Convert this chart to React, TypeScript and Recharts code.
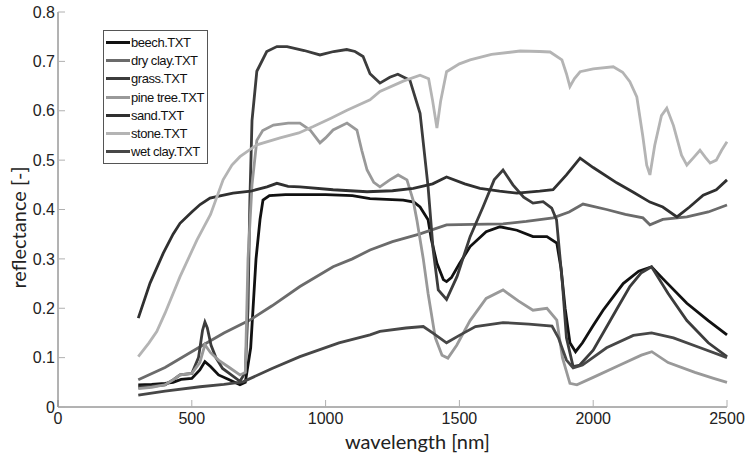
import { Legend, Line, LineChart, XAxis, YAxis } from "recharts";

// wavelength [nm], reflectance [-] pairs
const beech = [
  [300, 0.045], [350, 0.046], [400, 0.048], [430, 0.05], [460, 0.056], [500, 0.058],
  [530, 0.075], [549, 0.092], [570, 0.082], [600, 0.065], [640, 0.055], [680, 0.045],
  [700, 0.05], [720, 0.12], [740, 0.3], [755, 0.38], [766, 0.419], [790, 0.428],
  [850, 0.43], [1000, 0.43], [1100, 0.428], [1166, 0.422], [1290, 0.419], [1330, 0.415],
  [1353, 0.405], [1383, 0.379], [1395, 0.34], [1416, 0.291], [1440, 0.258], [1452, 0.254],
  [1470, 0.262], [1500, 0.29], [1540, 0.325], [1600, 0.355], [1652, 0.365], [1715, 0.358],
  [1775, 0.345], [1827, 0.345], [1864, 0.332], [1880, 0.28], [1895, 0.2], [1913, 0.13],
  [1934, 0.112], [1960, 0.13], [2000, 0.165], [2037, 0.196], [2112, 0.25], [2170, 0.275],
  [2218, 0.284], [2260, 0.26], [2350, 0.21], [2430, 0.175], [2500, 0.146],
];

const dryClay = [
  [300, 0.055], [400, 0.08], [531, 0.122], [620, 0.15], [717, 0.176], [800, 0.205],
  [904, 0.244], [1028, 0.284], [1100, 0.3], [1166, 0.318], [1250, 0.335], [1350, 0.35],
  [1452, 0.369], [1550, 0.37], [1663, 0.371], [1750, 0.376], [1850, 0.383], [1910, 0.395],
  [1962, 0.411], [2050, 0.4], [2120, 0.39], [2186, 0.383], [2212, 0.369], [2260, 0.38],
  [2350, 0.385], [2430, 0.395], [2500, 0.409],
];

const grass = [
  [300, 0.04], [350, 0.042], [400, 0.045], [430, 0.055], [456, 0.065], [500, 0.068],
  [525, 0.1], [540, 0.155], [549, 0.172], [558, 0.16], [572, 0.125], [590, 0.1],
  [615, 0.078], [640, 0.068], [680, 0.052], [700, 0.07], [710, 0.2], [717, 0.42],
  [725, 0.58], [743, 0.68], [780, 0.72], [818, 0.73], [856, 0.73], [920, 0.722],
  [979, 0.713], [1030, 0.72], [1079, 0.724], [1110, 0.72], [1140, 0.71], [1166, 0.675],
  [1203, 0.656], [1240, 0.668], [1270, 0.674], [1315, 0.662], [1353, 0.595], [1383, 0.446],
  [1402, 0.318], [1421, 0.237], [1452, 0.218], [1491, 0.264], [1540, 0.345], [1589, 0.406],
  [1630, 0.46], [1663, 0.48], [1700, 0.45], [1740, 0.425], [1775, 0.413], [1813, 0.416],
  [1845, 0.403], [1863, 0.379], [1885, 0.25], [1900, 0.14], [1925, 0.082], [1950, 0.085],
  [2000, 0.115], [2037, 0.15], [2090, 0.2], [2137, 0.244], [2180, 0.272], [2218, 0.284],
  [2280, 0.23], [2350, 0.175], [2430, 0.13], [2500, 0.102],
];

const pineTree = [
  [300, 0.037], [350, 0.04], [400, 0.045], [430, 0.055], [456, 0.065], [500, 0.068],
  [530, 0.09], [549, 0.126], [570, 0.11], [600, 0.095], [640, 0.08], [680, 0.065],
  [700, 0.07], [710, 0.3], [725, 0.45], [743, 0.54], [765, 0.56], [805, 0.571],
  [860, 0.575], [904, 0.575], [942, 0.561], [979, 0.535], [1000, 0.545], [1028, 0.561],
  [1080, 0.575], [1117, 0.561], [1135, 0.52], [1155, 0.48], [1180, 0.455], [1203, 0.446],
  [1240, 0.46], [1271, 0.47], [1304, 0.46], [1327, 0.419], [1341, 0.379], [1365, 0.3],
  [1383, 0.23], [1410, 0.14], [1435, 0.105], [1457, 0.099], [1490, 0.125], [1540, 0.175],
  [1600, 0.22], [1663, 0.237], [1720, 0.215], [1775, 0.196], [1827, 0.2], [1864, 0.176],
  [1885, 0.1], [1913, 0.048], [1939, 0.045], [2000, 0.06], [2100, 0.085], [2180, 0.105],
  [2219, 0.112], [2280, 0.09], [2380, 0.07], [2450, 0.058], [2500, 0.05],
];

const sand = [
  [300, 0.18], [344, 0.251], [393, 0.311], [430, 0.35], [456, 0.372], [500, 0.395],
  [531, 0.41], [568, 0.423], [610, 0.428], [654, 0.433], [720, 0.437], [781, 0.446],
  [818, 0.453], [860, 0.447], [904, 0.446], [1028, 0.44], [1155, 0.436], [1250, 0.438],
  [1328, 0.443], [1400, 0.452], [1452, 0.466], [1520, 0.452], [1577, 0.443], [1650, 0.437],
  [1715, 0.433], [1800, 0.437], [1850, 0.44], [1900, 0.47], [1951, 0.504], [2000, 0.485],
  [2088, 0.454], [2150, 0.435], [2212, 0.415], [2260, 0.405], [2313, 0.385], [2360, 0.405],
  [2411, 0.429], [2460, 0.44], [2500, 0.46],
];

const stone = [
  [300, 0.102], [340, 0.13], [369, 0.153], [400, 0.19], [456, 0.264], [519, 0.338],
  [570, 0.39], [617, 0.46], [650, 0.49], [680, 0.507], [743, 0.531], [830, 0.545],
  [900, 0.555], [954, 0.568], [1020, 0.585], [1080, 0.601], [1166, 0.622], [1203, 0.639],
  [1290, 0.66], [1353, 0.672], [1385, 0.665], [1400, 0.62], [1416, 0.565], [1430, 0.62],
  [1452, 0.679], [1500, 0.695], [1540, 0.703], [1620, 0.714], [1727, 0.721], [1800, 0.72],
  [1839, 0.719], [1883, 0.703], [1900, 0.675], [1913, 0.649], [1930, 0.665], [1951, 0.679],
  [2000, 0.685], [2075, 0.689], [2110, 0.678], [2137, 0.659], [2163, 0.628], [2185, 0.55],
  [2200, 0.49], [2212, 0.47], [2230, 0.53], [2255, 0.59], [2275, 0.605], [2300, 0.57],
  [2330, 0.51], [2350, 0.49], [2375, 0.505], [2399, 0.52], [2420, 0.505], [2437, 0.494],
  [2460, 0.5], [2480, 0.52], [2500, 0.537],
];

const wetClay = [
  [300, 0.024], [400, 0.032], [531, 0.041], [620, 0.046], [691, 0.051], [800, 0.078],
  [904, 0.102], [1050, 0.13], [1166, 0.146], [1203, 0.153], [1300, 0.16], [1365, 0.163],
  [1400, 0.15], [1452, 0.13], [1500, 0.145], [1560, 0.163], [1663, 0.171], [1760, 0.168],
  [1846, 0.164], [1870, 0.14], [1900, 0.095], [1925, 0.079], [1960, 0.085], [2050, 0.12],
  [2150, 0.145], [2218, 0.15], [2300, 0.14], [2400, 0.12], [2500, 0.1],
];

const xTicks = [0, 500, 1000, 1500, 2000, 2500];
const yTicks = [0, 0.1, 0.2, 0.3, 0.4, 0.5, 0.6, 0.7, 0.8];

const series = [
  { name: "beech.TXT", color: "#111111", points: beech },
  { name: "dry clay.TXT", color: "#6b6b6b", points: dryClay },
  { name: "grass.TXT", color: "#3c3c3c", points: grass },
  { name: "pine tree.TXT", color: "#999999", points: pineTree },
  { name: "sand.TXT", color: "#303030", points: sand },
  { name: "stone.TXT", color: "#b4b4b4", points: stone },
  { name: "wet clay.TXT", color: "#474747", points: wetClay },
];

const tickFont = { fontSize: 16, fill: "#222", fontFamily: "'Liberation Sans', Arial, sans-serif" };
const titleFont = "Lato, 'Open Sans', sans-serif";

function LegendBox({ payload }: { payload?: any[] }) {
  return (
    <div
      style={{
        boxSizing: "border-box",
        border: "1px solid #555",
        background: "#fff",
        padding: "2px 0 2px 2px",
        width: 105,
        fontFamily: "'Liberation Sans', Arial, sans-serif",
        fontSize: 13,
        letterSpacing: -0.45,
        whiteSpace: "nowrap",
        overflow: "hidden",
        color: "#111",
      }}
    >
      {(payload ?? []).map((p) => (
        <div key={p.value} style={{ display: "flex", alignItems: "center", height: 18.3 }}>
          <span style={{ flex: "none", width: 24, height: 3, background: p.color, marginRight: 1 }} />
          <span>{p.value}</span>
        </div>
      ))}
    </div>
  );
}

export default function App() {
  return (
    <div style={{ position: "absolute", left: 0, top: 0, background: "#fff" }}>
      <LineChart width={748} height={457} margin={{ top: 12, right: 21, bottom: 0, left: 0 }}>
        <XAxis
          type="number"
          dataKey="x"
          domain={[0, 2500]}
          ticks={xTicks}
          interval={0}
          height={50}
          stroke="#666"
          tickSize={-7}
          tickMargin={13}
          tickLine={{ stroke: "#b0b0b0" }}
          tick={tickFont}
          label={(props: any) => {
            const vb = props.viewBox;
            return (
              <text
                x={vb.x + vb.width / 2 + 25}
                y={vb.y + 42}
                textAnchor="middle"
                fontSize={20}
                fontFamily={titleFont}
                fill="#222"
              >
                wavelength [nm]
              </text>
            );
          }}
        />
        <XAxis
          xAxisId="top"
          orientation="top"
          type="number"
          domain={[0, 2500]}
          ticks={xTicks}
          interval={0}
          height={0}
          stroke="#666"
          tickSize={-7}
          tickLine={{ stroke: "#b0b0b0" }}
          tick={false}
        />
        <YAxis
          type="number"
          domain={[0, 0.8]}
          ticks={yTicks}
          interval={0}
          width={58}
          stroke="#666"
          tickSize={-7}
          tickMargin={10}
          tickLine={{ stroke: "#b0b0b0" }}
          tick={tickFont}
          label={(props: any) => {
            const vb = props.viewBox;
            const cx = 18;
            const cy = vb.y + vb.height / 2 + 18;
            return (
              <text
                x={cx}
                y={cy}
                transform={`rotate(-90 ${cx} ${cy})`}
                textAnchor="middle"
                dominantBaseline="central"
                fontSize={20}
                fontFamily={titleFont}
                fill="#222"
              >
                reflectance [-]
              </text>
            );
          }}
        />
        <YAxis
          yAxisId="right"
          orientation="right"
          type="number"
          domain={[0, 0.8]}
          ticks={yTicks}
          interval={0}
          width={0}
          stroke="#666"
          tickSize={-7}
          tickLine={{ stroke: "#b0b0b0" }}
          tick={false}
        />
        <Legend
          layout="vertical"
          align="center"
          verticalAlign="middle"
          wrapperStyle={{ left: 103, top: 30, width: "auto", height: "auto" }}
          content={(props: any) => <LegendBox payload={props.payload} />}
        />
        {series.map((s) => (
          <Line
            key={s.name}
            name={s.name}
            data={s.points.map(([x, y]) => ({ x, y }))}
            dataKey="y"
            type="linear"
            stroke={s.color}
            strokeWidth={2.8}
            dot={false}
            activeDot={false}
            isAnimationActive={false}
          />
        ))}
      </LineChart>
    </div>
  );
}
